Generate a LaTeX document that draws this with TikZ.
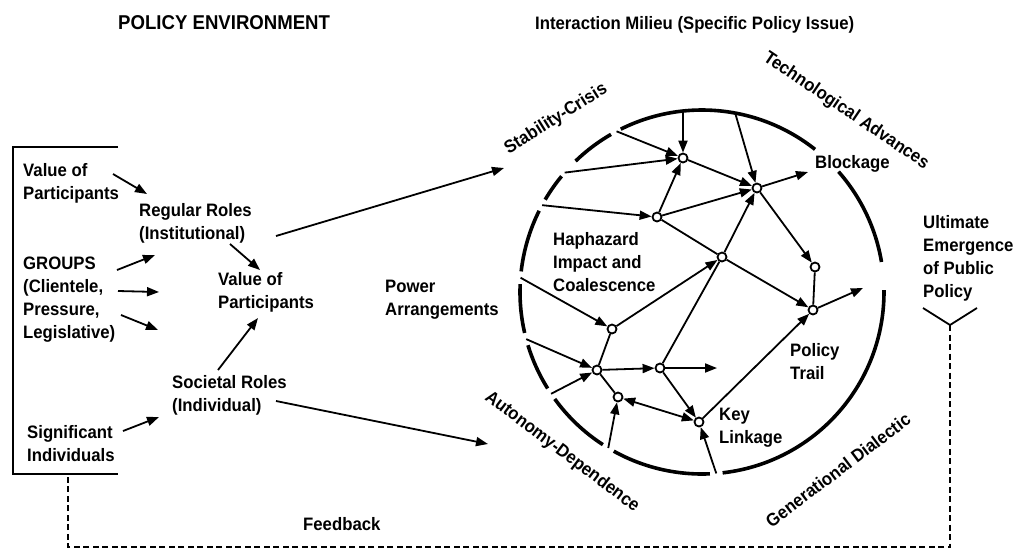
\documentclass[tikz,border=0pt]{standalone}
\usepackage{fontspec}
\setmainfont{Liberation Sans}[FakeStretch=0.93]
\usetikzlibrary{arrows.meta,calc}
\begin{document}
\begin{tikzpicture}[x=1pt,y=-1pt,
  lbl/.style={font=\fontsize{18}{23}\selectfont\bfseries, inner sep=0pt, anchor=north west, align=left},
  slant/.style={font=\fontsize{18}{23}\selectfont\bfseries, inner sep=0pt, anchor=center},
  conn/.style={line width=1.8pt, -{Triangle[length=12pt,width=9pt]}},
  both/.style={line width=1.8pt, {Triangle[length=12pt,width=9pt]}-{Triangle[length=12pt,width=9pt]}},
  plain/.style={line width=1.8pt},
  hub/.style={circle, draw, line width=1.8pt, fill=white, minimum size=9pt, inner sep=0pt},
  rim/.style={line width=3.6pt},
  feedback/.style={line width=1.4pt, dash pattern=on 6pt off 3.5pt},
]
\useasboundingbox (0,0) rectangle (1023,550);

% headings
\node[lbl, font=\fontsize{20}{24}\selectfont\bfseries] (penv) at (118,15) {POLICY ENVIRONMENT};
\node[lbl] (milieu) at (535,16) {Interaction Milieu (Specific Policy Issue)};

% policy environment bracket
\coordinate (brTR) at (118,147);
\coordinate (brTL) at (13,147);
\coordinate (brBL) at (13,474);
\coordinate (brBR) at (118,474);
\coordinate (brFB) at (68,474);
\draw[line width=2pt] (brTR) -- (brTL) -- (brBL) -- (brBR);

% environment labels
\node[lbl] (vop1) at (23,163) {Value of\\Participants};
\node[lbl] (groups) at (23,257) {GROUPS\\(Clientele,\\Pressure,\\Legislative)};
\node[lbl] (signif) at (27,425) {Significant\\Individuals};
\node[lbl] (regular) at (139,203) {Regular Roles\\(Institutional)};
\node[lbl] (vop2) at (218,272) {Value of\\Participants};
\node[lbl] (societal) at (172,375) {Societal Roles\\(Individual)};
\node[lbl] (power) at (385,280) {Power\\Arrangements};

% environment arrows
\coordinate (e1a) at (113,174); \coordinate (e1b) at (147,194);
\coordinate (g1a) at (117,270); \coordinate (g1b) at (155,255);
\coordinate (g2a) at (118,291); \coordinate (g2b) at (159,292);
\coordinate (g3a) at (121,315); \coordinate (g3b) at (158,330);
\coordinate (r2va) at (230,244); \coordinate (r2vb) at (260,270);
\coordinate (s2va) at (218,370); \coordinate (s2vb) at (258,318);
\coordinate (i2sa) at (123,431); \coordinate (i2sb) at (159,417);
\coordinate (r2ca) at (276,236); \coordinate (r2cb) at (504,168);
\coordinate (s2aa) at (276,401); \coordinate (s2ab) at (488,444);
\draw[conn] (e1a) -- (e1b);
\draw[conn] (g1a) -- (g1b);
\draw[conn] (g2a) -- (g2b);
\draw[conn] (g3a) -- (g3b);
\draw[conn] (r2va) -- (r2vb);
\draw[conn] (s2va) -- (s2vb);
\draw[conn] (i2sa) -- (i2sb);
\draw[conn] (r2ca) -- (r2cb);
\draw[conn] (s2aa) -- (s2ab);

% interaction milieu: broken rim
\coordinate (ctr) at (702,292);
\foreach \a/\b in {276.5/360.6, 9.5/41.4, 51.6/116.5, 120/134, 140.5/149.5,
                   153.5/173.5, 177.5/193, 197/212, 216/237, 241/272.5}
  \draw[rim] ($(ctr)+(\a:182pt)$) arc[start angle=\a, end angle=\b, radius=182pt];

% entry points on the rim
\coordinate (t1) at ($(ctr)+(96:182pt)$);
\coordinate (t2) at ($(ctr)+(79.5:182pt)$);
\coordinate (r1) at ($(ctr)+(118:182pt)$);
\coordinate (r2) at ($(ctr)+(139:182pt)$);
\coordinate (r3) at ($(ctr)+(151.5:182pt)$);
\coordinate (r4) at ($(ctr)+(175.5:182pt)$);
\coordinate (r5) at ($(ctr)+(195:182pt)$);
\coordinate (r6) at ($(ctr)+(214:182pt)$);
\coordinate (r7) at ($(ctr)+(239:182pt)$);
\coordinate (r8) at ($(ctr)+(274.5:182pt)$);

% free arrow ends
\coordinate (blk) at (808,172);
\coordinate (out8) at (717,368);
\coordinate (exit) at (863,288);

% junctions
\node[hub] (n1) at (683,158) {};
\node[hub] (n2) at (657,217) {};
\node[hub] (n3) at (757,188) {};
\node[hub] (n4) at (722,257) {};
\node[hub] (n5) at (612,329) {};
\node[hub] (n6) at (597,370) {};
\node[hub] (n7) at (618,397) {};
\node[hub] (n8) at (660,368) {};
\node[hub] (n9) at (699,422) {};
\node[hub] (n10) at (815,267) {};
\node[hub] (n11) at (813,310) {};

% network inside the rim
\draw[conn] (t1) -- (n1);
\draw[conn] (r1) -- (n1);
\draw[conn] (r2) -- (n1);
\draw[conn] (n2) -- (n1);
\draw[conn] (n1) -- (n3);
\draw[conn] (n2) -- (n3);
\draw[conn] (t2) -- (n3);
\draw[conn] (r3) -- (n2);
\draw[conn] (n3) -- (blk);
\draw[conn] (n4) -- (n3);
\draw[plain] (n2) -- (n4);
\draw[conn] (n4) -- (n11);
\draw[conn] (n3) -- (n10);
\draw[plain] (n10) -- (n11);
\draw[conn] (n11) -- (exit);
\draw[conn] (n5) -- (n4);
\draw[plain] (n5) -- (n6);
\draw[conn] (r4) -- (n5);
\draw[conn] (r5) -- (n6);
\draw[conn] (r6) -- (n6);
\draw[conn] (n6) -- (n8);
\draw[conn] (n8) -- (out8);
\draw[plain] (n8) -- (n4);
\draw[conn] (n8) -- (n9);
\draw[plain] (n6) -- (n7);
\draw[both] (n7) -- (n9);
\draw[conn] (r7) -- (n7);
\draw[conn] (r8) -- (n9);
\draw[conn] (n9) -- (n11);

% labels inside the rim
\node[lbl] (haph) at (553,232) {Haphazard\\Impact and\\Coalescence};
\node[lbl] (block) at (815,155) {Blockage};
\node[lbl] (trail) at (790,343) {Policy\\Trail};
\node[lbl] (keyl) at (719,408) {Key\\Linkage};

% labels around the rim
\node[slant, rotate=32] (stab) at (556,119) {Stability-Crisis};
\node[slant, rotate=-34] (tech) at (846,111) {Technological Advances};
\node[slant, rotate=-37] (auto) at (562,452) {Autonomy-Dependence};
\node[slant, rotate=37] (gen) at (838,470) {Generational Dialectic};

% outcome and feedback
\node[lbl] (ultimate) at (923,215) {Ultimate\\Emergence\\of Public\\Policy};
\coordinate (vl) at (923,308);
\coordinate (vtip) at (950,325);
\coordinate (vr) at (977,308);
\draw[plain] (vl) -- (vtip) -- (vr);
\coordinate (fbR) at (950,547);
\coordinate (fbL) at (68,547);
\draw[feedback] (vtip) -- (fbR) -- (fbL) -- (brFB);
\node[lbl] (fb) at (303,517) {Feedback};
\end{tikzpicture}
\end{document}
